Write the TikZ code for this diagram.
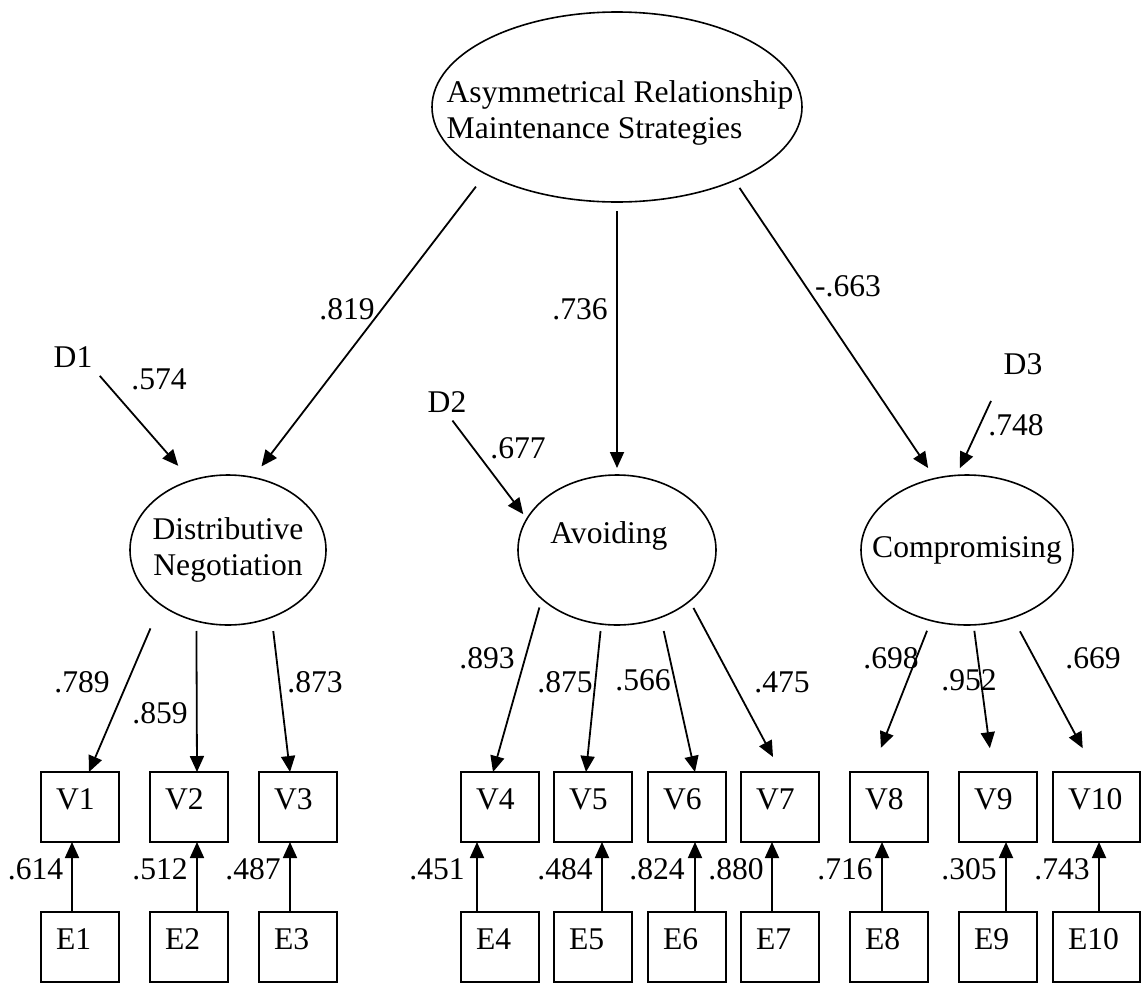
\documentclass[tikz,border=0pt]{standalone}
\usepackage{fontspec}
\setmainfont{Liberation Serif}
\usepackage{tikz}
\usetikzlibrary{shapes}
\usetikzlibrary{arrows.meta}
\usetikzlibrary{positioning}

\begin{document}
\begin{tikzpicture}[x=1pt,y=-1pt,
	line width=1.8pt,
	font=\fontsize{31.6}{36}\selectfont,
	latent/.style={ellipse,draw,line width=1.6pt,inner sep=0pt,outer sep=0pt},
	obs/.style={rectangle,draw,line width=2pt,inner xsep=15pt,inner ysep=0pt,outer sep=0pt,
	  text height=37pt,text depth=33pt,text width=48pt,align=left},
	effect/.style={-{Triangle[length=16pt,width=14pt]}},
	coef/.style={inner sep=0pt}]
  \useasboundingbox (0,0) rectangle (1141,983);

  \node[latent,minimum width=370pt,minimum height=190pt,
    label={[align=left,xshift=3pt,yshift=-6pt]center:Asymmetrical Relationship\\Maintenance Strategies}] (ARMS) at (617,107) {};
  \node[latent,minimum width=196pt,minimum height=150pt,
    label={[align=center]center:Distributive\\Negotiation}] (DN) at (228,550) {};
  \node[latent,minimum width=198pt,minimum height=150pt,
    label={[xshift=-8pt,yshift=14pt]center:Avoiding}] (AV) at (617,550) {};
  \node[latent,minimum width=212pt,minimum height=150pt,
    label={center:Compromising}] (CO) at (967,550) {};

  \node[coef] (D1) at (73,357) {D1};
  \node[coef] (D2) at (447,402) {D2};
  \node[coef] (D3) at (1023,364) {D3};

  \draw[effect,shorten <=16pt,shorten >=14pt] (ARMS.207.4) -- (DN.71.6);
  \draw[effect,shorten <=9pt,shorten >=7pt] (ARMS.south) -- (AV.north);
  \draw[effect,shorten <=9pt,shorten >=12.6pt] (ARMS.328.9) -- (CO.114.1);
  \draw[effect,shorten <=10pt,shorten >=19.5pt] (D1.south east) -- (DN.118.2);
  \draw[effect,shorten <=9pt,shorten >=6pt] (D2.south) -- (AV.161.5);
  \draw[effect,shorten <=28pt,shorten >=8pt] (D3.south west) -- (CO.98.9);

  \foreach \i/\x/\dx/\w/\lx/\txt in {1/80/-8/48/35.5/.614, 2/189/8/48/160/.512, 3/298/-8/48/253/.487,
      4/500/-23/48/437/.451, 5/593/9/48/565/.484, 6/687/8/48/657/.824, 7/780/-8/48/736/.880,
      8/889/-7/48/845/.716, 9/998/8/48/969/.305, 10/1096.5/2.5/57/1062/.743}{
    \node[obs,text width=\w pt] (V\i) at (\x,807) {V\i};
    \node[obs,text width=\w pt] (E\i) at (\x,947) {E\i};
    \draw[effect] ([xshift=\dx pt]E\i.north) -- ([xshift=\dx pt]V\i.south);
    \node[coef] (r\i) at (\lx,869) {\txt};
  }

  \draw[effect,shorten <=26pt] (DN.219.4) -- ([xshift=9pt]V1.north);
  \draw[effect,shorten <=10pt] (DN.246.4) -- ([xshift=8pt]V2.north);
  \draw[effect,shorten <=14pt] (DN.303.6) -- ([xshift=-8pt]V3.north);
  \draw[effect,shorten <=9pt] (AV.213.5) -- ([xshift=-7pt]V4.north);
  \draw[effect,shorten <=7pt] (AV.258.3) -- ([xshift=-7pt]V5.north);
  \draw[effect,shorten <=14pt] (AV.303.3) -- ([xshift=8pt]V6.north);
  \draw[effect,shorten <=8pt,shorten >=17pt] (AV.325.3) -- ([xshift=1pt]V7.north);
  \draw[effect,shorten <=11pt,shorten >=26pt] (CO.243.8) -- ([xshift=-17.6pt]V8.north);
  \draw[effect,shorten <=6pt,shorten >=24pt] (CO.275.5) -- ([xshift=-5pt]V9.north);
  \draw[effect,shorten <=15.5pt,shorten >=27pt] (CO.304.8) -- ([xshift=-1pt]V10.north);

  \foreach \txt/\x/\y [count=\k] in {.819/347/309, .736/580/309, -.663/848/286, .574/159/379,
      .677/518/448, .748/1016/425, .789/82/682, .859/160/713, .873/315/682, .893/487/658,
      .875/565/682, .566/643/680, .475/782/682, .698/891/658, .952/969/680, .669/1093/658}
    \node[coef] (coef\k) at (\x,\y) {\txt};
\end{tikzpicture}
\end{document}
